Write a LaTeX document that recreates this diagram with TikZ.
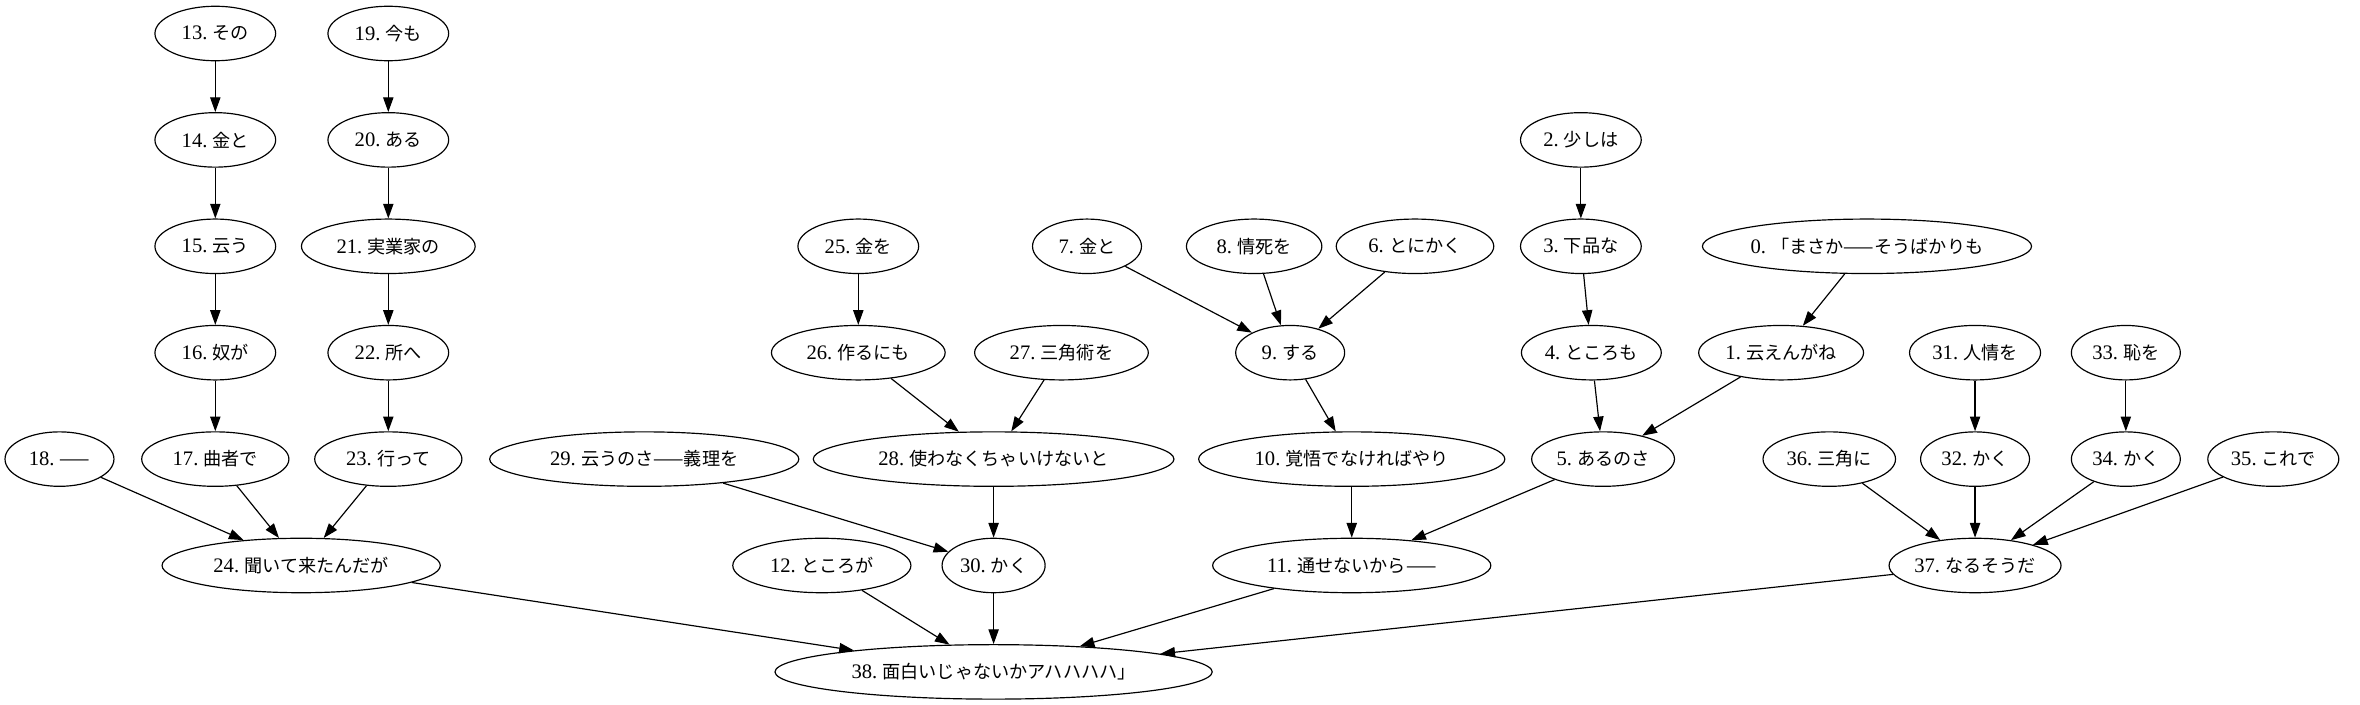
\documentclass[tikz,border=0pt]{standalone}
\usepackage{fontspec}
\setmainfont{Liberation Serif}
\newfontfamily\cjk[Scale=0.88]{Noto Sans CJK JP}
\usetikzlibrary{shapes.geometric,arrows.meta}
\newcommand{\segtxt}[2]{#1.\ {\cjk #2}}
\tikzset{
  word/.style={ellipse,draw,line width=0.8pt,inner sep=0pt,minimum height=37pt,
    minimum width=#1,font=\fontsize{14}{16}\selectfont},
  word/.default=82pt,
  dep/.style={line width=0.8pt,-{Triangle[length=10pt,width=7pt]}}
}
\begin{document}
\begin{tikzpicture}
      \useasboundingbox (0,0) rectangle (56.34,16.83);

      \node[word] (n13) at (5.14,16.03) {\segtxt{13}{その}};
      \node[word] (n19) at (9.27,16.03) {\segtxt{19}{今も}};

      \node[word] (n14) at (5.14,13.49) {\segtxt{14}{金と}};
      \node[word] (n20) at (9.27,13.49) {\segtxt{20}{ある}};
      \node[word] (n2) at (37.74,13.49) {\segtxt{2}{少しは}};

      \node[word] (n15) at (5.14,10.95) {\segtxt{15}{云う}};
      \node[word=118pt] (n21) at (9.27,10.95) {\segtxt{21}{実業家の}};
      \node[word] (n25) at (20.49,10.95) {\segtxt{25}{金を}};
      \node[word=74pt] (n7) at (25.95,10.95) {\segtxt{7}{金と}};
      \node[word=92pt] (n8) at (29.94,10.95) {\segtxt{8}{情死を}};
      \node[word=107pt] (n6) at (33.78,10.95) {\segtxt{6}{とにかく}};
      \node[word] (n3) at (37.74,10.95) {\segtxt{3}{下品な}};
      \node[word=220pt] (n0) at (44.57,10.95) {\segtxt{0}{「まさか——そうばかりも}};

      \node[word] (n16) at (5.14,8.41) {\segtxt{16}{奴が}};
      \node[word] (n22) at (9.27,8.41) {\segtxt{22}{所へ}};
      \node[word=118pt] (n26) at (20.49,8.41) {\segtxt{26}{作るにも}};
      \node[word=118pt] (n27) at (25.34,8.41) {\segtxt{27}{三角術を}};
      \node[word=74pt] (n9) at (30.80,8.41) {\segtxt{9}{する}};
      \node[word=95pt] (n4) at (37.99,8.41) {\segtxt{4}{ところも}};
      \node[word=112pt] (n1) at (42.52,8.41) {\segtxt{1}{云えんがね}};
      \node[word=89pt] (n31) at (47.15,8.41) {\segtxt{31}{人情を}};
      \node[word=74pt] (n33) at (50.75,8.41) {\segtxt{33}{恥を}};

      \node[word=74pt] (n18) at (1.42,5.87) {\segtxt{18}{——}};
      \node[word=100pt] (n17) at (5.14,5.87) {\segtxt{17}{曲者で}};
      \node[word=100pt] (n23) at (9.27,5.87) {\segtxt{23}{行って}};
      \node[word=210pt] (n29) at (15.38,5.87) {\segtxt{29}{云うのさ——義理を}};
      \node[word=245pt] (n28) at (23.72,5.87) {\segtxt{28}{使わなくちゃいけないと}};
      \node[word=208pt] (n10) at (32.27,5.87) {\segtxt{10}{覚悟でなければやり}};
      \node[word=97pt] (n5) at (38.27,5.87) {\segtxt{5}{あるのさ}};
      \node[word=90pt] (n36) at (43.67,5.87) {\segtxt{36}{三角に}};
      \node[word=74pt] (n32) at (47.15,5.87) {\segtxt{32}{かく}};
      \node[word=74pt] (n34) at (50.75,5.87) {\segtxt{34}{かく}};
      \node[word=89pt] (n35) at (54.27,5.87) {\segtxt{35}{これで}};

      \node[word=189pt] (n24) at (7.19,3.33) {\segtxt{24}{聞いて来たんだが}};
      \node[word=121pt] (n12) at (19.62,3.33) {\segtxt{12}{ところが}};
      \node[word=70pt] (n30) at (23.72,3.33) {\segtxt{30}{かく}};
      \node[word=189pt] (n11) at (32.27,3.33) {\segtxt{11}{通せないから——}};
      \node[word=102pt] (n37) at (47.15,3.33) {\segtxt{37}{なるそうだ}};

      \node[word=297pt] (n38) at (23.72,0.79) {\segtxt{38}{面白いじゃないかアハハハハ」}};

      \draw[dep] (n13) to (n14);
      \draw[dep] (n14) to (n15);
      \draw[dep] (n15) to (n16);
      \draw[dep] (n16) to (n17);
      \draw[dep] (n17) to (n24);
      \draw[dep] (n19) to (n20);
      \draw[dep] (n20) to (n21);
      \draw[dep] (n21) to (n22);
      \draw[dep] (n22) to (n23);
      \draw[dep] (n23) to (n24);
      \draw[dep] (n18) to (n24);
      \draw[dep] (n24) to (n38);

      \draw[dep] (n25) to (n26);
      \draw[dep] (n26) to (n28);
      \draw[dep] (n27) to (n28);
      \draw[dep] (n28) to (n30);
      \draw[dep] (n29) to (n30);
      \draw[dep] (n30) to (n38);
      \draw[dep] (n12) to (n38);

      \draw[dep] (n7) to (n9);
      \draw[dep] (n8) to (n9);
      \draw[dep] (n6) to (n9);
      \draw[dep] (n9) to (n10);
      \draw[dep] (n10) to (n11);
      \draw[dep] (n11) to (n38);

      \draw[dep] (n2) to (n3);
      \draw[dep] (n3) to (n4);
      \draw[dep] (n4) to (n5);
      \draw[dep] (n0) to (n1);
      \draw[dep] (n1) to (n5);
      \draw[dep] (n5) to (n11);

      \draw[dep] (n31) to (n32);
      \draw[dep] (n32) to (n37);
      \draw[dep] (n33) to (n34);
      \draw[dep] (n34) to (n37);
      \draw[dep] (n36) to (n37);
      \draw[dep] (n35) to (n37);
      \draw[dep] (n37) to (n38);

\end{tikzpicture}
\end{document}
